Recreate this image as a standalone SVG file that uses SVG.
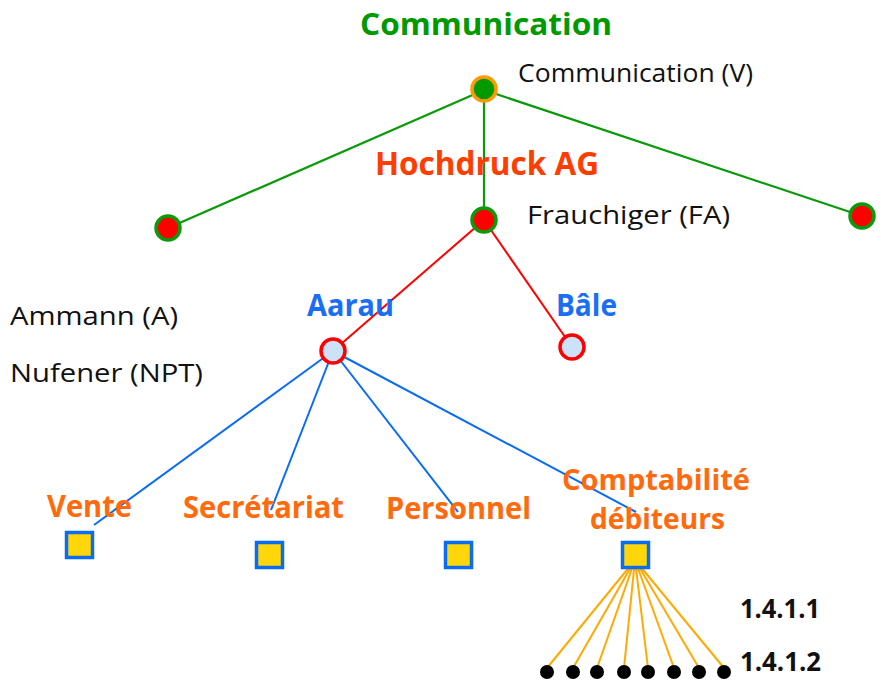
<svg xmlns="http://www.w3.org/2000/svg" width="887" height="682" viewBox="0 0 887 682">
<style>
text{font-family:"Open Sans","Noto Sans","DejaVu Sans",sans-serif}
.reg{font-size:25px;fill:#111}
.bold{font-weight:700}
.green{fill:#009900}
.hoch{fill:#FF3D00}
.blue{fill:#1A6EF5}
.org{fill:#FF6A0D}
.num{font-size:26px;font-weight:700;fill:#111}
.lg{stroke:#0A9A0A;stroke-width:2.2;fill:none}
.lr{stroke:#FF0000;stroke-width:2;fill:none}
.lb{stroke:#0A6CF0;stroke-width:2;fill:none}
.lo{stroke:#FFAA00;stroke-width:2;fill:none}
.n1{fill:#FF0000;stroke:#0A9A0A;stroke-width:3.5}
.n2{fill:#CCE2F8;stroke:#FF0000;stroke-width:3.5}
.box{fill:#FFD60A;stroke:#0A6CF0;stroke-width:3.5}
.dot{fill:#000}
</style>
<g id="connectors">
<line class="lg" x1="484" y1="90" x2="168" y2="228"/>
<line class="lg" x1="484" y1="90" x2="484" y2="220"/>
<line class="lg" x1="484" y1="90" x2="862" y2="216"/>
<line class="lr" x1="484" y1="220" x2="333" y2="351"/>
<line class="lr" x1="484" y1="220" x2="572" y2="347"/>
<line class="lb" x1="333" y1="351" x2="94" y2="525"/>
<line class="lb" x1="333" y1="351" x2="271" y2="510"/>
<line class="lb" x1="333" y1="351" x2="458" y2="512"/>
<line class="lb" x1="333" y1="351" x2="636" y2="512"/>
<line class="lo" x1="635" y1="560" x2="547" y2="668"/>
<line class="lo" x1="635" y1="560" x2="573" y2="668"/>
<line class="lo" x1="635" y1="560" x2="597" y2="668"/>
<line class="lo" x1="635" y1="560" x2="624" y2="668"/>
<line class="lo" x1="635" y1="560" x2="648" y2="668"/>
<line class="lo" x1="635" y1="560" x2="674" y2="668"/>
<line class="lo" x1="635" y1="560" x2="699" y2="668"/>
<line class="lo" x1="635" y1="560" x2="724" y2="668"/>
</g>
<g id="title"><text x="486" y="35" text-anchor="middle" class="bold green" font-size="31" textLength="252" lengthAdjust="spacingAndGlyphs">Communication</text></g>
<g id="root">
<circle cx="484" cy="89" r="12" fill="#009900" stroke="#FF9900" stroke-width="3.5"/>
<text x="518" y="82" class="reg" textLength="235" lengthAdjust="spacingAndGlyphs">Communication (V)</text>
</g>
<g id="hochdruck-label"><text x="375" y="175" class="bold hoch" font-size="33" textLength="224" lengthAdjust="spacingAndGlyphs">Hochdruck AG</text></g>
<g id="node-left"><circle class="n1" cx="168" cy="228" r="12"/></g>
<g id="node-mid">
<circle class="n1" cx="484" cy="220" r="12"/>
<text x="527" y="224" class="reg" textLength="203" lengthAdjust="spacingAndGlyphs">Frauchiger (FA)</text>
</g>
<g id="node-right"><circle class="n1" cx="862" cy="216" r="12"/></g>
<g id="people">
<text x="10" y="325" class="reg" textLength="168" lengthAdjust="spacingAndGlyphs">Ammann (A)</text>
<text x="10" y="382" class="reg" textLength="193" lengthAdjust="spacingAndGlyphs">Nufener (NPT)</text>
</g>
<g id="aarau">
<text x="307" y="316" class="bold blue" font-size="31" textLength="87" lengthAdjust="spacingAndGlyphs">Aarau</text>
<circle class="n2" cx="333" cy="351" r="12"/>
</g>
<g id="bale">
<text x="556" y="316" class="bold blue" font-size="31" textLength="61" lengthAdjust="spacingAndGlyphs">Bâle</text>
<circle class="n2" cx="572" cy="347" r="12"/>
</g>
<g id="vente">
<text x="47" y="517" class="bold org" font-size="31" textLength="85" lengthAdjust="spacingAndGlyphs">Vente</text>
<rect class="box" x="66.5" y="532.5" width="26" height="25"/>
</g>
<g id="secretariat">
<text x="183" y="518" class="bold org" font-size="31" textLength="161" lengthAdjust="spacingAndGlyphs">Secrétariat</text>
<rect class="box" x="256.5" y="542.5" width="26" height="25"/>
</g>
<g id="personnel">
<text x="386" y="519" class="bold org" font-size="31" textLength="145" lengthAdjust="spacingAndGlyphs">Personnel</text>
<rect class="box" x="445.5" y="542.5" width="26" height="25"/>
</g>
<g id="comptabilite">
<text x="562" y="490" class="bold org" font-size="29" textLength="188" lengthAdjust="spacingAndGlyphs">Comptabilité</text>
<text x="590" y="529" class="bold org" font-size="29" textLength="135" lengthAdjust="spacingAndGlyphs">débiteurs</text>
<rect class="box" x="622.5" y="542.5" width="26" height="25"/>
</g>
<g id="leaves">
<circle class="dot" cx="547" cy="672" r="7"/>
<circle class="dot" cx="573" cy="672" r="7"/>
<circle class="dot" cx="597" cy="672" r="7"/>
<circle class="dot" cx="624" cy="672" r="7"/>
<circle class="dot" cx="648" cy="672" r="7"/>
<circle class="dot" cx="674" cy="672" r="7"/>
<circle class="dot" cx="699" cy="672" r="7"/>
<circle class="dot" cx="724" cy="672" r="7"/>
</g>
<g id="numbers">
<text x="740" y="618" class="num" textLength="80" lengthAdjust="spacingAndGlyphs">1.4.1.1</text>
<text x="740" y="671" class="num" textLength="81" lengthAdjust="spacingAndGlyphs">1.4.1.2</text>
</g>
</svg>
